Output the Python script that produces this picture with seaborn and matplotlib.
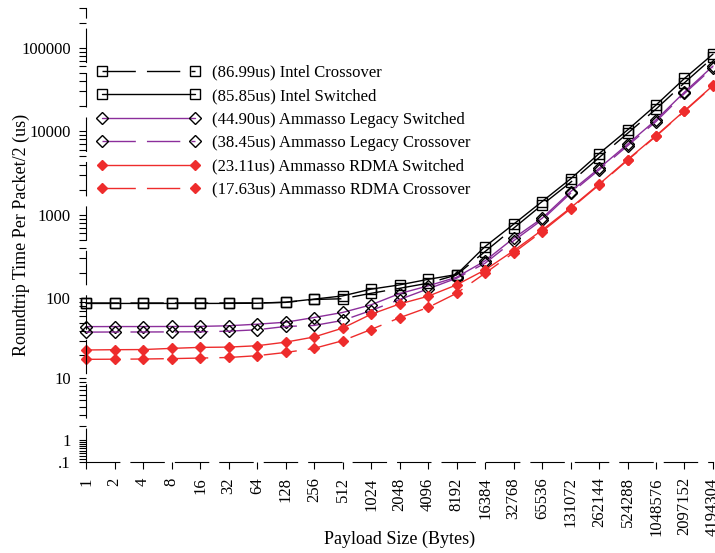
import numpy as np
import pandas as pd
import matplotlib
matplotlib.use("Agg")
import matplotlib.pyplot as plt
import matplotlib.ticker as mticker
import seaborn as sns

payload_sizes = [1, 2, 4, 8, 16, 32, 64, 128, 256, 512, 1024, 2048, 4096, 8192,
                 16384, 32768, 65536, 131072, 262144, 524288, 1048576, 2097152, 4194304]

intel_crossover = [87.0, 87.0, 87.0, 87.0, 87.0, 87.1, 87.3, 88.5, 96.0, 98.0, 114, 131, 151, 190,
                   362, 689, 1314, 2448, 4840, 9450, 18480, 38170, 76700]
intel_switched = [85.9, 86.0, 86.0, 86.0, 86.0, 86.1, 86.5, 89.0, 97.0, 106, 128, 144, 168, 192,
                  416, 770, 1440, 2690, 5400, 10370, 20640, 43000, 84100]
legacy_switched = [44.9, 45.0, 45.0, 45.1, 45.2, 46.0, 48.1, 50.8, 58.0, 66.8, 82.7, 113, 140, 178,
                   280, 523, 908, 1894, 3600, 7000, 13700, 29500, 60500]
legacy_crossover = [38.45, 38.6, 38.6, 38.7, 38.8, 39.5, 41.1, 45.1, 46.4, 53.4, 70.6, 95.9, 129, 173,
                    262, 487, 869, 1809, 3450, 6700, 13100, 28400, 58000]
rdma_switched = [23.11, 23.3, 23.4, 24.2, 24.9, 25.1, 26.1, 28.9, 33.5, 43.0, 63.5, 84.7, 105, 144,
                 218, 370, 655, 1210, 2320, 4580, 8870, 17650, 35400]
rdma_crossover = [17.63, 17.7, 17.8, 18.0, 18.3, 18.6, 19.6, 21.5, 24.2, 30.1, 41.4, 57.6, 76.8, 114,
                  199, 350, 630, 1180, 2280, 4500, 8740, 17400, 34900]

series_labels = ["(86.99us) Intel Crossover", "(85.85us) Intel Switched",
                 "(44.90us) Ammasso Legacy Switched", "(38.45us) Ammasso Legacy Crossover",
                 "(23.11us) Ammasso RDMA Switched", "(17.63us) Ammasso RDMA Crossover"]

y_major = [0.1, 1, 10, 100, 1000, 10000, 100000]
y_major_labels = [".1", "1", "10", "100", "1000", "10000", "100000"]


def fwd(y):
    return np.log10(np.clip(y, 0, None) + 1.0)


def inv(u):
    return 10.0 ** u - 1.0


def main():
    sns.set_theme(style="ticks")
    plt.rcParams["font.family"] = ["Liberation Serif", "DejaVu Serif"]
    plt.rcParams.update({"text.color": "black", "axes.labelcolor": "black",
                         "xtick.color": "black", "ytick.color": "black",
                         "axes.edgecolor": "black"})

    fig = plt.figure(figsize=(7.15, 5.53), dpi=100)
    ax = fig.add_axes([0.1203, 0.1646, 0.8769, 0.8210])
    ax.set_yscale("function", functions=(fwd, inv))

    purple = "#8b2e9b"
    red = "#ee2c2c"
    dash = (0, (24, 8))
    styles = [
        ("black", "s", "none", "black", dash, 6.5),
        ("black", "s", "none", "black", "-", 6.5),
        (purple, "D", "none", "black", "-", 6.5),
        (purple, "D", "none", "black", dash, 6.5),
        (red, "D", red, red, "-", 5.5),
        (red, "D", red, red, dash, 5.5),
    ]
    all_values = [intel_crossover, intel_switched, legacy_switched,
                  legacy_crossover, rdma_switched, rdma_crossover]

    pos = np.arange(len(payload_sizes))
    for values, label, (color, marker, mfc, mec, ls, ms) in zip(all_values, series_labels, styles):
        df = pd.DataFrame({"pos": pos, "latency": values})
        sns.lineplot(data=df, x="pos", y="latency", ax=ax, color=color, marker=marker,
                     markersize=ms, markerfacecolor=mfc, markeredgecolor=mec,
                     markeredgewidth=1.0, linewidth=1.0, linestyle=ls, label=label,
                     clip_on=False)

    ax.set_xlim(0, len(payload_sizes) - 1)
    ax.set_ylim(0.1, 300000)
    ax.set_xticks(pos)
    ax.set_xticklabels([str(s) for s in payload_sizes], rotation=90)
    ax.yaxis.set_major_locator(mticker.FixedLocator(y_major))
    ax.yaxis.set_major_formatter(mticker.FixedFormatter(y_major_labels))
    minors = [k * 10.0 ** d for d in range(-1, 6) for k in range(2, 10)]
    ax.yaxis.set_minor_locator(mticker.FixedLocator(minors))
    ax.yaxis.set_minor_formatter(mticker.NullFormatter())

    ax.tick_params(axis="both", which="both", direction="out", length=5, width=0.8,
                   labelsize=12, pad=6)

    sns.despine(ax=ax)
    for side in ["left", "bottom"]:
        ax.spines[side].set_linewidth(0.8)
        ax.spines[side].set_linestyle((0, (30, 10)))

    ax.set_xlabel("Payload Size (Bytes)", fontsize=13)
    ax.set_ylabel("Roundtrip Time Per Packet/2 (us)", fontsize=13)
    ax.xaxis.set_label_coords(0.5, -0.152)
    ax.yaxis.set_label_coords(-0.09, 0.5)

    ax.legend(loc="upper left", bbox_to_anchor=(0.007, 0.89), frameon=False, numpoints=2,
              handlelength=6.2, handletextpad=0.7, labelspacing=0.45, fontsize=12,
              borderaxespad=0)

    fig.savefig("out.png", dpi=100)
    plt.close(fig)


if __name__ == "__main__":
    main()
